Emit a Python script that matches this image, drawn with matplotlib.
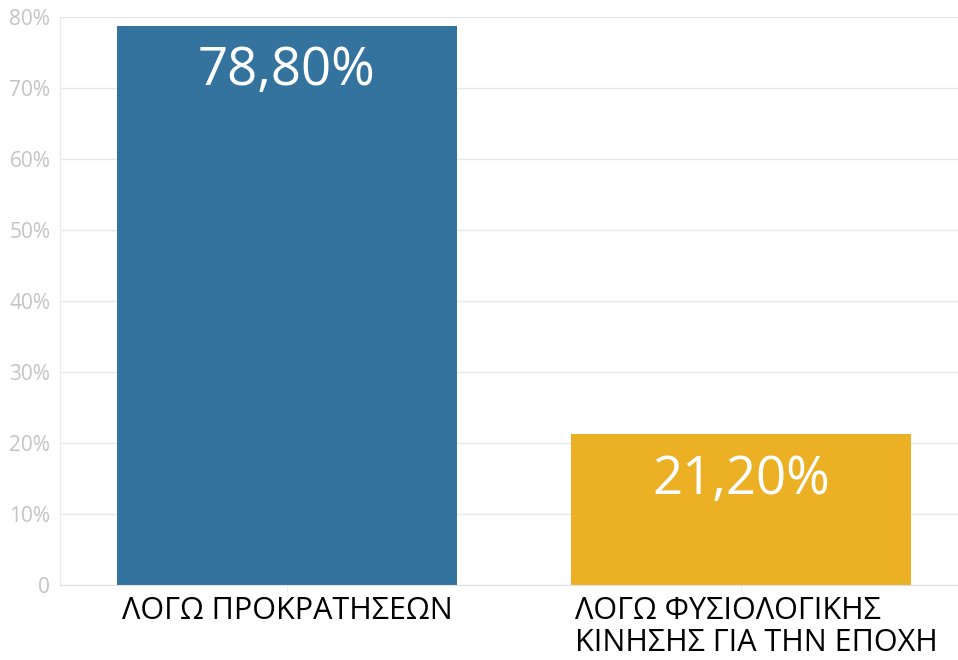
import numpy as np
import matplotlib
matplotlib.use('Agg')
import matplotlib.pyplot as plt

plt.rcParams['font.family'] = ['Open Sans', 'DejaVu Sans']

categories = ['ΛΟΓΩ ΠΡΟΚΡΑΤΗΣΕΩΝ', 'ΛΟΓΩ ΦΥΣΙΟΛΟΓΙΚΗΣ\nΚΙΝΗΣΗΣ ΓΙΑ ΤΗΝ ΕΠΟΧΗ']
values = [78.8, 21.2]
value_labels = ['78,80%', '21,20%']
bar_colors = ['#33739e', '#ebb024']
yticks = [0, 10, 20, 30, 40, 50, 60, 70, 80]
ytick_labels = ['0', '10%', '20%', '30%', '40%', '50%', '60%', '70%', '80%']

fig = plt.figure(figsize=(9.58, 6.6), dpi=100)
# axes run a bit past the right edge like the original
ax = fig.add_axes([60/958, 75/660, 908/958, 568/660])

x = np.arange(len(categories))
bars = ax.bar(x, values, width=0.75, color=bar_colors, zorder=2)

for b, lab in zip(bars, value_labels):
    ax.annotate(lab, (b.get_x() + b.get_width()/2, b.get_height()),
                xytext=(0, -33), textcoords='offset points',
                ha='center', va='center', color='white', fontsize=38)

ax.set_xlim(-0.5, 1.5)
ax.set_ylim(0, 80)
ax.set_yticks(yticks)
ax.set_yticklabels(ytick_labels, color='#c4c4c4', fontsize=15)
ax.set_xticks(x)
ax.set_xticklabels([])
ax.tick_params(axis='y', length=0, pad=7)
ax.tick_params(axis='x', length=5, color='#eeeeee')

ax.grid(axis='y', color='#e8e8e8', linewidth=1, zorder=0)
for s in ['top', 'right']:
    ax.spines[s].set_visible(False)
ax.spines['left'].set_color('#e8e8e8')
ax.spines['bottom'].set_color('#e0e0e0')

# category labels below the bars
ax.annotate(categories[0], (x[0], 0), xytext=(0, -8), textcoords='offset points',
            ha='center', va='top', fontsize=22, color='black', annotation_clip=False)
ax.annotate(categories[1], (x[1], 0), xytext=(11, -8), textcoords='offset points',
            ha='center', va='top', fontsize=22, color='black', multialignment='left',
            linespacing=1.1, annotation_clip=False)

fig.savefig('out.png', dpi=100)
